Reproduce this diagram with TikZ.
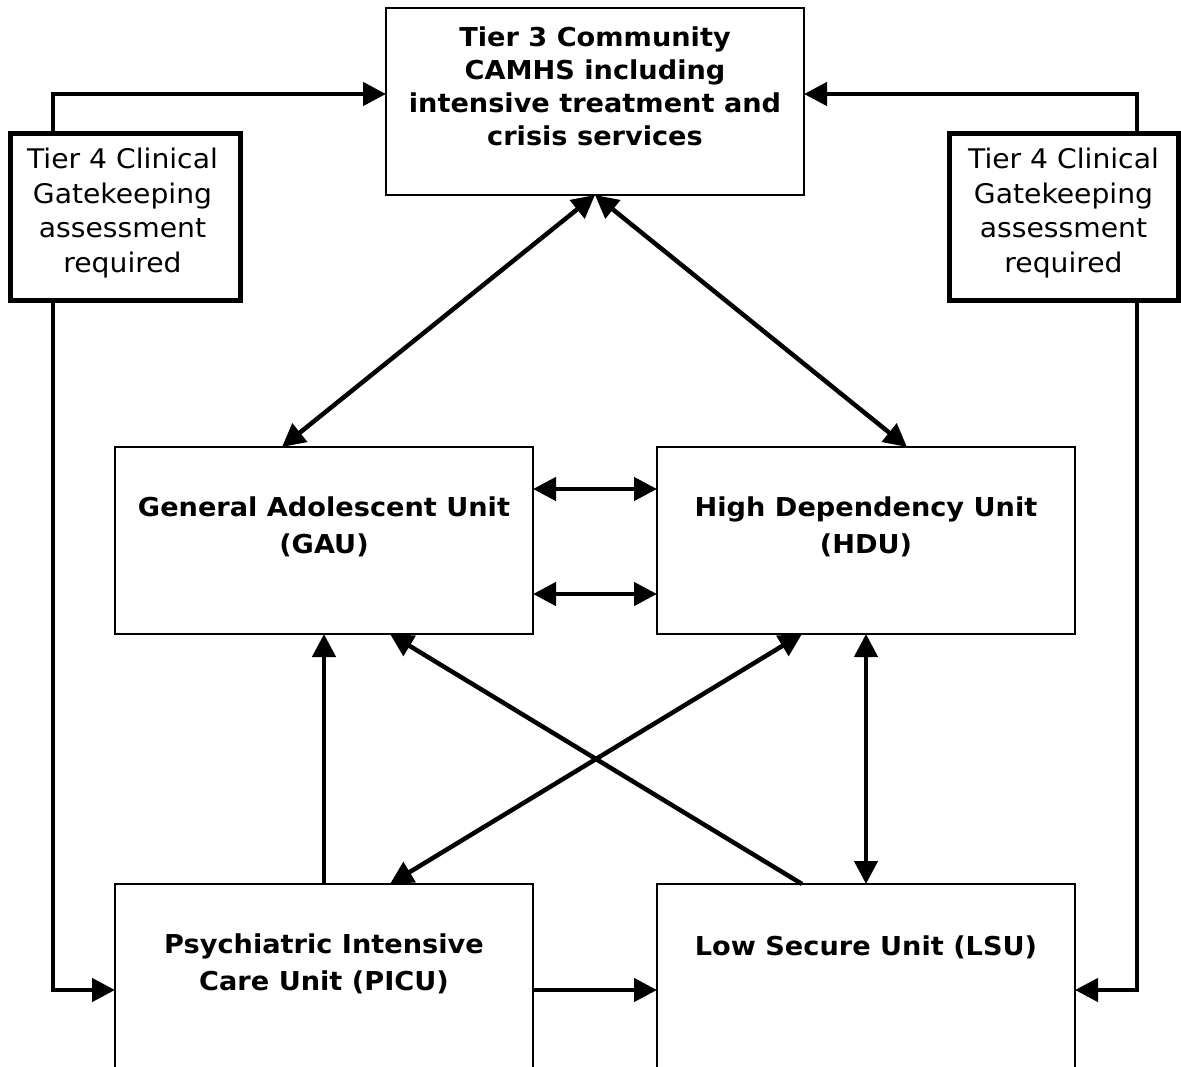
\documentclass[tikz,border=0pt]{standalone}
\usepackage{fontspec}
\setmainfont{DejaVu Sans}[FakeStretch=1.045]
\usetikzlibrary{arrows.meta}
\tikzset{
  box/.style={draw, line width=1.6pt, inner sep=0pt, outer sep=0pt, anchor=north west},
  gkbox/.style={draw, line width=4.2pt, inner sep=0pt, outer sep=0pt},
  bt/.style={font=\bfseries\fontsize{26}{33}\selectfont, align=center, inner sep=0pt},
  btw/.style={font=\bfseries\fontsize{26}{37}\selectfont, align=center, inner sep=0pt},
  rt/.style={font=\fontsize{27}{34.5}\selectfont, align=center, inner sep=0pt},
  conn/.style={line width=4.5pt, -{Triangle[length=23pt,width=23pt]}},
  dconn/.style={line width=4.5pt, {Triangle[length=23pt,width=23pt]}-{Triangle[length=23pt,width=23pt]}},
}
\begin{document}
\begin{tikzpicture}[x=1pt,y=-1pt]
\path[fill=white] (0,0) rectangle (1181,1067);
\clip (0,0) rectangle (1181,1067);
% boxes
\node[box, minimum width=418pt, minimum height=187pt] (t3) at (386,8) {};
\node[box, minimum width=418pt, minimum height=187pt] (gau) at (115,447) {};
\node[box, minimum width=418pt, minimum height=187pt] (hdu) at (657,447) {};
\node[box, minimum width=418pt, minimum height=260pt] (picu) at (115,884) {};
\node[box, minimum width=418pt, minimum height=260pt] (lsu) at (657,884) {};
\node[gkbox, minimum width=230pt, minimum height=167pt] (gkL) at (125.5,217) {};
\node[gkbox, minimum width=229pt, minimum height=167pt] (gkR) at (1064,217) {};
% texts
\node[bt] (t3t) at (595,86) {Tier 3 Community\\CAMHS including\\intensive treatment and\\crisis services};
\node[rt] (gkLt) at (122.5,213) {Tier 4 Clinical\\Gatekeeping\\assessment\\required};
\node[rt] (gkRt) at (1063.5,213) {Tier 4 Clinical\\Gatekeeping\\assessment\\required};
\node[btw] (gaut) at (324,527) {General Adolescent Unit\\(GAU)};
\node[btw] (hdut) at (866,527) {High Dependency Unit\\(HDU)};
\node[btw] (picut) at (324,964) {Psychiatric Intensive\\Care Unit (PICU)};
\node[btw] (lsut) at (866,947) {Low Secure Unit (LSU)};
% helper coordinates
\coordinate (lx) at (53,94);
\coordinate (rx) at (1137,94);
\coordinate (lb) at (53,990);
\coordinate (rb) at (1137,990);
\coordinate (h1) at (595,489);
\coordinate (h2) at (595,594);
% connectors
\draw[conn] (gkL.north -| lx) -- (lx) -- (t3.west |- lx);
\draw[conn] (gkR.north -| rx) -- (rx) -- (t3.east |- rx);
\draw[conn] (gkL.south -| lx) -- (lb) -- (picu.west |- lb);
\draw[conn] (gkR.south -| rx) -- (rb) -- (lsu.east |- rb);
\draw[dconn] (t3.south) -- ([xshift=-42pt]gau.north);
\draw[dconn] (t3.south) -- ([xshift=41pt]hdu.north);
\draw[dconn] (gau.east |- h1) -- (hdu.west |- h1);
\draw[dconn] (gau.east |- h2) -- (hdu.west |- h2);
\draw[conn] (picu.north) -- (gau.south);
\draw[dconn] ([xshift=66pt]picu.north) -- ([xshift=-64pt]hdu.south);
\draw[conn] ([xshift=-64pt]lsu.north) -- ([xshift=66pt]gau.south);
\draw[dconn] (lsu.north) -- (hdu.south);
\draw[conn] (picu.east |- lb) -- (lsu.west |- lb);
\end{tikzpicture}
\end{document}
